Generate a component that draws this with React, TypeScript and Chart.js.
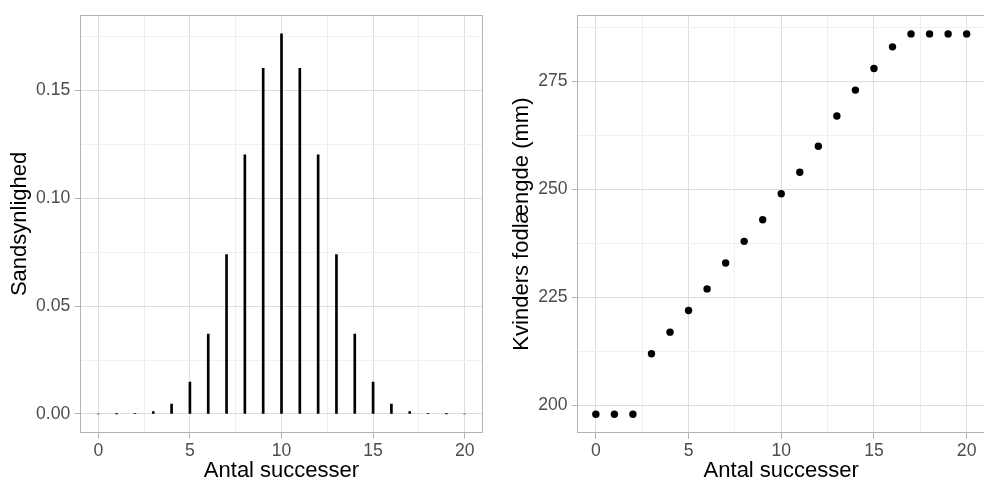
import React, { useEffect, useRef } from "react";
import { Chart, registerables } from "chart.js";

Chart.register(...registerables);

// ---- data ----
const successes = [0, 1, 2, 3, 4, 5, 6, 7, 8, 9, 10, 11, 12, 13, 14, 15, 16, 17, 18, 19, 20];
const probabilities = [
  0, 0.00002, 0.0002, 0.0011, 0.0046, 0.0148, 0.037, 0.0739, 0.1201, 0.1602, 0.1762,
  0.1602, 0.1201, 0.0739, 0.037, 0.0148, 0.0046, 0.0011, 0.0002, 0.00002, 0,
];
const footLengths = [198, 198, 198, 212, 217, 222, 227, 233, 238, 243, 249, 254, 260, 267, 273, 278, 283, 286, 286, 286, 286];
const xTickLabels = ["0", "5", "10", "15", "20"];
const probTickLabels = ["0.00", "0.05", "0.10", "0.15"];
const footTickLabels = ["200", "225", "250", "275"];

const xTitle = "Antal successer";
const probTitle = "Sandsynlighed";
const footTitle = "Kvinders fodlængde (mm)";

// ---- styles ----
const FONT = "'Liberation Sans', Arial, sans-serif";
const TICK_FONT = { family: FONT, size: 17.6 };
const TITLE_FONT = { family: FONT, size: 22, lineHeight: 1.2 };
const TICK_COLOR = "#4D4D4D";
const MAJOR_GRID = "#DEDEDE";
const MINOR_GRID = "#F0F0F0";
const BORDER = "#B3B3B3";

function isMult(v: number, step: number) {
  const r = v / step;
  return Math.abs(r - Math.round(r)) < 1e-6;
}

function labelFrom(labels: string[], base: number, step: number) {
  return (v: any) => {
    const val = Number(v);
    if (!isMult(val - base, step)) return "";
    const i = Math.round((val - base) / step);
    return labels[i] !== undefined ? labels[i] : "";
  };
}

function gridOpts(base: number, step: number) {
  return {
    drawOnChartArea: true,
    drawTicks: true,
    tickLength: 5.5,
    lineWidth: 1,
    color: (ctx: any) => (ctx.tick && isMult(ctx.tick.value - base, step) ? MAJOR_GRID : MINOR_GRID),
    tickColor: (ctx: any) => (ctx.tick && isMult(ctx.tick.value - base, step) ? BORDER : "rgba(0,0,0,0)"),
    tickWidth: 1,
  };
}

const borderPlugin = {
  id: "panelBorder",
  afterDraw(chart: any) {
    const { ctx, chartArea } = chart;
    ctx.save();
    ctx.strokeStyle = BORDER;
    ctx.lineWidth = 1;
    const l = Math.round(chartArea.left) + 0.5;
    const t = Math.round(chartArea.top) + 0.5;
    const r = Math.round(chartArea.right) - 0.5;
    const b = Math.round(chartArea.bottom) - 0.5;
    ctx.strokeRect(l, t, r - l, b - t);
    ctx.restore();
  },
};

function xScale(fixHeight: number) {
  return {
    type: "linear",
    min: -1,
    max: 21,
    offset: false,
    border: { display: false },
    grid: { ...gridOpts(0, 5), offset: false },
    ticks: {
      stepSize: 2.5,
      includeBounds: false,
      autoSkip: false,
      maxRotation: 0,
      minRotation: 0,
      padding: 2,
      color: TICK_COLOR,
      font: TICK_FONT,
      callback: labelFrom(xTickLabels, 0, 5),
    },
    title: {
      display: true,
      text: xTitle,
      color: "#000000",
      font: TITLE_FONT,
      padding: { top: 0, bottom: 0 },
    },
    afterFit: (s: any) => {
      s.height = fixHeight;
    },
  };
}

function yScale(
  min: number,
  max: number,
  step: number,
  base: number,
  majorStep: number,
  labels: string[],
  title: string,
  width: number,
  titlePad: number
) {
  return {
    type: "linear",
    min,
    max,
    border: { display: false },
    grid: gridOpts(base, majorStep),
    ticks: {
      stepSize: step,
      includeBounds: false,
      autoSkip: false,
      padding: 4.3,
      color: TICK_COLOR,
      font: TICK_FONT,
      callback: labelFrom(labels, base, majorStep),
    },
    title: {
      display: true,
      text: title,
      color: "#000000",
      font: TITLE_FONT,
      padding: { top: titlePad, bottom: 0 },
    },
    afterFit: (s: any) => {
      s.width = width;
    },
  };
}

function ProbChart() {
  const ref = useRef<HTMLCanvasElement>(null);
  useEffect(() => {
    if (!ref.current) return;
    const maxP = Math.max(...probabilities);
    const chart = new Chart(ref.current, {
      type: "bar",
      data: {
        datasets: [
          {
            data: successes.map((s, i) => ({ x: s, y: probabilities[i] })),
            backgroundColor: "#000000",
            borderWidth: 0,
            barThickness: 2,
          },
        ],
      },
      options: {
        animation: false,
        responsive: false,
        devicePixelRatio: 1,
        layout: { padding: { top: 13, right: 7, left: 0, bottom: 0 } },
        plugins: { legend: { display: false }, tooltip: { enabled: false } },
        scales: {
          x: xScale(51) as any,
          y: yScale(-0.05 * maxP, maxP * 1.05, 0.025, 0, 0.05, probTickLabels, probTitle, 80, 6.5) as any,
        },
      },
      plugins: [borderPlugin],
    });
    return () => chart.destroy();
  }, []);
  return <canvas ref={ref} width={490} height={484} style={{ width: 490, height: 484, display: "block" }} />;
}

function FootChart() {
  const ref = useRef<HTMLCanvasElement>(null);
  useEffect(() => {
    if (!ref.current) return;
    const lo = Math.min(...footLengths);
    const hi = Math.max(...footLengths);
    const pad = (hi - lo) * 0.05;
    const chart = new Chart(ref.current, {
      type: "scatter",
      data: {
        datasets: [
          {
            data: successes.map((s, i) => ({ x: s, y: footLengths[i] })),
            backgroundColor: "#000000",
            borderWidth: 0,
            pointRadius: 3.7,
          },
        ],
      },
      options: {
        animation: false,
        responsive: false,
        devicePixelRatio: 1,
        layout: { padding: { top: 13.3, right: 4.8, left: 0, bottom: 0 } },
        plugins: { legend: { display: false }, tooltip: { enabled: false } },
        scales: {
          x: xScale(50.7) as any,
          y: yScale(lo - pad, hi + pad, 12.5, 200, 25, footTickLabels, footTitle, 87.3, 18.5) as any,
        },
      },
      plugins: [borderPlugin],
    });
    return () => chart.destroy();
  }, []);
  return <canvas ref={ref} width={500} height={484} style={{ width: 500, height: 484, display: "block" }} />;
}

export default function App() {
  return (
    <div
      style={{
        position: "absolute",
        left: 0,
        top: 0,
        width: 984,
        height: 484,
        overflow: "hidden",
        background: "#FFFFFF",
      }}
    >
      <div style={{ position: "absolute", left: 0, top: 0 }}>
        <ProbChart />
      </div>
      <div style={{ position: "absolute", left: 490, top: 0 }}>
        <FootChart />
      </div>
    </div>
  );
}
